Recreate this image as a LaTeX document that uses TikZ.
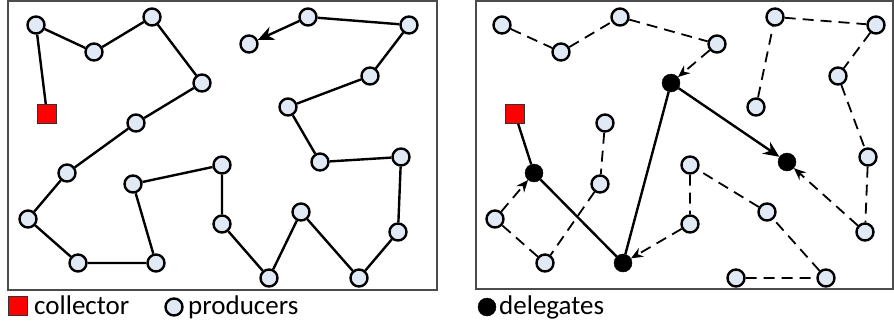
\documentclass[tikz,border=0pt]{standalone}
\usepackage{fontspec}
\setmainfont{Carlito}
\usepackage{xcolor}
\usetikzlibrary{arrows.meta,positioning}
\definecolor{mfill}{HTML}{E1E9F5}
\definecolor{mred}{HTML}{FF0000}
\tikzstyle{prod}=[circle, draw=black, fill=mfill, minimum size=17pt, line width=2.4, inner sep=0pt]
\tikzstyle{dele}=[circle, draw=black, fill=black, minimum size=18pt, inner sep=0pt]
\tikzstyle{coll}=[rectangle, draw=black!80, fill=mred, minimum size=19pt, line width=1, inner sep=0pt]
\tikzstyle{l1}=[line width=2.4]
\tikzstyle{l2}=[line width=1.8, dash pattern=on 11pt off 7pt]
\tikzstyle{box}=[draw=black!70, line width=1.8]
\tikzstyle{lbl}=[anchor=base west, inner sep=0pt, font=\fontsize{27}{32}\selectfont]

\begin{document}
\begin{tikzpicture}[x=1pt, y=-1pt]
    \useasboundingbox (0,0) rectangle (894,324);
    % left panel
    \begin{scope}
        \draw[box] (8,1) rectangle (437,290);
        \node[coll] at (47,114) (c0) {};
        \node[prod] at (36,25) (p1) {};   \node[prod] at (94,52) (p2) {};
        \node[prod] at (152,17) (p3) {};  \node[prod] at (202,83) (p4) {};
        \node[prod] at (136,123) (p5) {}; \node[prod] at (67,173) (p6) {};
        \node[prod] at (28,219) (p7) {};  \node[prod] at (78,263) (p8) {};
        \node[prod] at (156,263) (p9) {}; \node[prod] at (133,184) (p10) {};
        \node[prod] at (222,165) (p11) {};\node[prod] at (222,224) (p12) {};
        \node[prod] at (269,278) (p13) {};\node[prod] at (301,212) (p14) {};
        \node[prod] at (359,278) (p15) {};\node[prod] at (398,232) (p16) {};
        \node[prod] at (401,157) (p17) {};\node[prod] at (320,162) (p18) {};
        \node[prod] at (288,107) (p19) {};\node[prod] at (370,76) (p20) {};
        \node[prod] at (409,25) (p21) {}; \node[prod] at (308,17) (p22) {};
        \node[prod] at (249,44) (p23) {};

        \draw[l1] (c0) -- (p1) -- (p2) -- (p3) -- (p4) -- (p5) -- (p6) -- (p7) -- (p8) -- (p9) -- (p10) -- (p11);
        \draw[l1] (p11) -- (p12) -- (p13) -- (p14) -- (p15) -- (p16) -- (p17) -- (p18) -- (p19) -- (p20) -- (p21) -- (p22);
        \draw[l1, -{Stealth[length=16pt, width=14pt]}] (p22) -- (p23);
    \end{scope}

    % right panel
    \begin{scope}
        \draw[box] (476,1) rectangle (893,289);
        \node[coll] at (515,114) (c1) {};
        \node[dele] at (534,173) (d0) {}; \node[dele] at (671,83) (d1) {};
        \node[dele] at (623,263) (d2) {}; \node[dele] at (787,162) (d3) {};
        \node[prod] at (502,25) (q1) {};  \node[prod] at (561,52) (q2) {};
        \node[prod] at (620,17) (q3) {};  \node[prod] at (717,44) (q4) {};
        \node[prod] at (605,123) (q5) {}; \node[prod] at (600,184) (q6) {};
        \node[prod] at (545,263) (q7) {}; \node[prod] at (495,219) (q8) {};
        \node[prod] at (690,165) (q9) {}; \node[prod] at (690,224) (q10) {};
        \node[prod] at (767,212) (q11) {};\node[prod] at (826,278) (q12) {};
        \node[prod] at (736,278) (q13) {};\node[prod] at (756,107) (q14) {};
        \node[prod] at (775,17) (q15) {}; \node[prod] at (876,25) (q16) {};
        \node[prod] at (838,76) (q17) {}; \node[prod] at (868,157) (q18) {};
        \node[prod] at (865,232) (q19) {};

        \draw[l1] (c1) -- (d0) -- (d2) -- (d1);
        \draw[l1, -{Stealth[length=16pt, width=14pt]}] (d1) -- (d3);
        \draw[l2] (q1) -- (q2) -- (q3) -- (q4);
        \draw[l2] (q5) -- (q6) -- (q7) -- (q8);
        \draw[l2] (q13) -- (q12) -- (q11) -- (q9) -- (q10);
        \draw[l2] (q14) -- (q15) -- (q16) -- (q17) -- (q18) -- (q19);
        \draw[l2, -{Stealth[length=12pt, width=10pt]}] (q4) -- (d1);
        \draw[l2, -{Stealth[length=12pt, width=10pt]}] (q8) -- (d0);
        \draw[l2, -{Stealth[length=12pt, width=10pt]}] (q10) -- (d2);
        \draw[l2, -{Stealth[length=12pt, width=10pt]}] (q19) -- (d3);
    \end{scope}

    % legend
    \node[coll] at (18,306) (lc) {};
    \node[lbl] at (34,314) (tc) {collector};
    \node[prod] at (174,307) (lp) {};
    \node[lbl] at (188,314) (tp) {producers};
    \node[dele] at (487,307) (ld) {};
    \node[lbl] at (499,314) (td) {delegates};
\end{tikzpicture}
\end{document}
